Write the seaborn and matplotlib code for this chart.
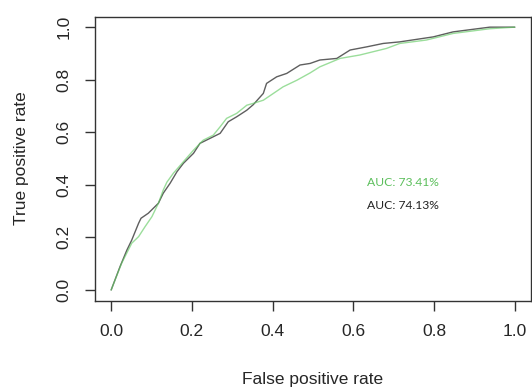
import numpy as np
import pandas as pd
import matplotlib
matplotlib.use("Agg")
import matplotlib.pyplot as plt
import seaborn as sns

# ── ROC curve points ──
fpr_black = [0.0, 0.022, 0.039, 0.051, 0.068, 0.074, 0.092, 0.117, 0.129, 0.146,
             0.163, 0.179, 0.204, 0.220, 0.253, 0.270, 0.290, 0.311, 0.336, 0.352,
             0.377, 0.385, 0.410, 0.435, 0.468, 0.493, 0.517, 0.559, 0.592, 0.633,
             0.674, 0.715, 0.798, 0.847, 0.938, 1.0]
tpr_black = [0.0, 0.089, 0.152, 0.190, 0.254, 0.273, 0.292, 0.330, 0.368, 0.406,
             0.450, 0.482, 0.520, 0.558, 0.583, 0.596, 0.640, 0.659, 0.684, 0.705,
             0.748, 0.786, 0.811, 0.824, 0.856, 0.862, 0.875, 0.881, 0.913, 0.925,
             0.938, 0.944, 0.963, 0.982, 1.0, 1.0]

fpr_green = [0.0, 0.026, 0.051, 0.068, 0.084, 0.101, 0.117, 0.129, 0.138, 0.154,
             0.179, 0.204, 0.228, 0.253, 0.270, 0.286, 0.311, 0.336, 0.352, 0.377,
             0.402, 0.426, 0.460, 0.493, 0.517, 0.567, 0.616, 0.682, 0.715, 0.781,
             0.847, 0.938, 1.0]
tpr_green = [0.0, 0.102, 0.178, 0.203, 0.241, 0.279, 0.330, 0.380, 0.410, 0.444,
             0.488, 0.532, 0.570, 0.589, 0.621, 0.653, 0.672, 0.703, 0.710, 0.722,
             0.748, 0.773, 0.798, 0.826, 0.849, 0.881, 0.894, 0.919, 0.938, 0.951,
             0.976, 0.994, 1.0]

auc_green = 73.41
auc_black = 74.13
tick_values = [0.0, 0.2, 0.4, 0.6, 0.8, 1.0]

sns.set_style("white")
plt.rcParams["font.family"] = ["Liberation Sans", "DejaVu Sans"]

fig = plt.figure(figsize=(5.32, 3.87), dpi=100)
ax = fig.add_axes([0.1786, 0.2235, 0.8194, 0.7335])

GREY = "#4d4d4d"
GREEN = "#66cc66"

sns.lineplot(x=fpr_black, y=tpr_black, ax=ax, sort=False, estimator=None,
             color=GREY, lw=1.0, alpha=0.9)
sns.lineplot(x=fpr_green, y=tpr_green, ax=ax, sort=False, estimator=None,
             color=GREEN, lw=1.0, alpha=0.65)

# AUC annotations
ax.text(0.634, 0.41, f"AUC: {auc_green:.2f}%", color="#5cbf5c",
        fontsize=8.7, family="Lato", va="center", ha="left")
ax.text(0.634, 0.323, f"AUC: {auc_black:.2f}%", color="#222222",
        fontsize=8.7, family="Lato", va="center", ha="left")

# R-style axes: 4% padding, boxed, outward ticks
ax.set_xlim(-0.04, 1.04)
ax.set_ylim(-0.04, 1.04)
ax.set_xticks(tick_values)
ax.set_yticks(tick_values)
ax.set_xticklabels([f"{v:.1f}" for v in tick_values])
ax.set_yticklabels([f"{v:.1f}" for v in tick_values], rotation=90, va="center")
ax.tick_params(axis="both", direction="out", length=7, width=1.0,
               color="#333333", labelsize=12.5, labelcolor="#262626", pad=10)
ax.tick_params(bottom=True, left=True)
for s in ax.spines.values():
    s.set_visible(True)
    s.set_color("#333333")
    s.set_linewidth(1.0)

ax.set_xlabel("False positive rate", fontsize=12.5, color="#262626", labelpad=24)
ax.set_ylabel("True positive rate", fontsize=12.5, color="#262626", labelpad=20)

fig.savefig("out.png", dpi=100)
